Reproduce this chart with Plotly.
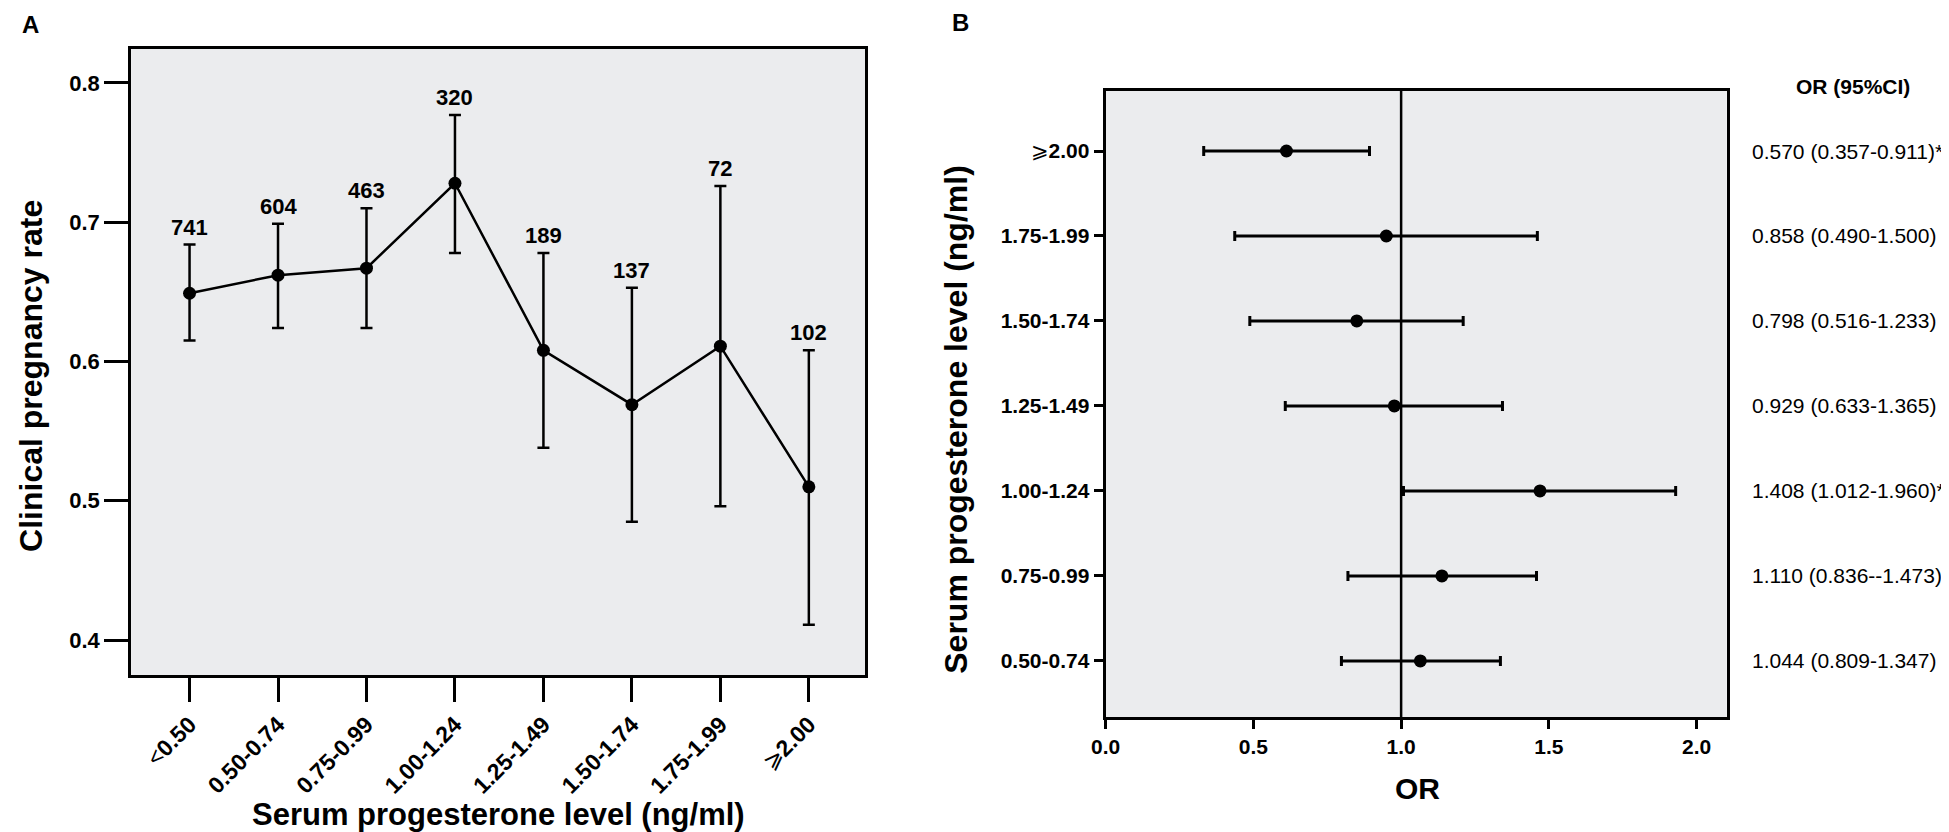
import plotly.graph_objects as go

# Panel A: clinical pregnancy rate by serum progesterone group
groups_a = ["<0.50", "0.50-0.74", "0.75-0.99", "1.00-1.24",
            "1.25-1.49", "1.50-1.74", "1.75-1.99", "⩾2.00"]
rate = [0.649, 0.662, 0.667, 0.728, 0.608, 0.569, 0.611, 0.510]
rate_upper = [0.684, 0.699, 0.710, 0.777, 0.678, 0.653, 0.726, 0.608]
rate_lower = [0.615, 0.624, 0.624, 0.678, 0.538, 0.485, 0.496, 0.411]
counts = [741, 604, 463, 320, 189, 137, 72, 102]

# Panel B: odds ratios (bottom row first)
groups_b = ["0.50-0.74", "0.75-0.99", "1.00-1.24", "1.25-1.49",
            "1.50-1.74", "1.75-1.99", "⩾2.00"]
or_point = [1.065, 1.138, 1.470, 0.977, 0.850, 0.950, 0.612]
or_low = [0.798, 0.820, 1.008, 0.608, 0.488, 0.437, 0.332]
or_high = [1.336, 1.458, 1.929, 1.343, 1.210, 1.461, 0.893]
or_text = ["1.044 (0.809-1.347)", "1.110 (0.836--1.473)", "1.408 (1.012-1.960)*",
           "0.929 (0.633-1.365)", "0.798 (0.516-1.233)", "0.858 (0.490-1.500)",
           "0.570 (0.357-0.911)*"]

W, H = 1949, 832
FONT = "Liberation Sans, Arial, sans-serif"
BG = "#ebecee"


def label(s):
    # comparison sign in normal weight, the numbers in bold
    if s[0] in "<⩾":
        return s[0] + "<b>" + s[1:] + "</b>"
    return "<b>" + s + "</b>"


def px_x(p):
    return p / W


def px_y(p):
    return 1 - p / H


fig = go.Figure()

fig.add_trace(go.Scatter(
    x=groups_a, y=rate,
    mode="lines+markers",
    line=dict(color="black", width=2.5),
    marker=dict(color="black", size=13),
    error_y=dict(
        type="data", symmetric=False,
        array=[u - r for u, r in zip(rate_upper, rate)],
        arrayminus=[r - l for r, l in zip(rate, rate_lower)],
        color="black", thickness=2.5, width=6,
    ),
    xaxis="x", yaxis="y", showlegend=False, hoverinfo="skip",
))

fig.add_trace(go.Scatter(
    x=or_point, y=groups_b,
    mode="markers",
    marker=dict(color="black", size=13),
    error_x=dict(
        type="data", symmetric=False,
        array=[h - p for h, p in zip(or_high, or_point)],
        arrayminus=[p - l for p, l in zip(or_point, or_low)],
        color="black", thickness=3, width=5,
    ),
    xaxis="x2", yaxis="y2", showlegend=False, hoverinfo="skip",
))

axis_common = dict(
    showline=True, linecolor="black", linewidth=3, mirror=True,
    showgrid=False, zeroline=False,
    ticks="outside", tickcolor="black", tickwidth=3,
)

fig.update_layout(
    width=W, height=H,
    margin=dict(l=0, r=0, t=0, b=0),
    paper_bgcolor="white",
    plot_bgcolor=BG,
    font=dict(family=FONT, color="black"),
    xaxis=dict(
        axis_common, domain=[px_x(109), px_x(849)], anchor="y",
        type="category", categoryorder="array", categoryarray=groups_a,
        range=[-0.66, 7.64], ticklen=24, tickangle=-45,
        tickvals=groups_a, ticktext=[label(g) for g in groups_a],
        tickfont=dict(size=23, family=FONT),
    ),
    yaxis=dict(
        axis_common, domain=[px_y(667), px_y(41)], anchor="x",
        range=[0.3749, 0.8244], ticklen=24,
        tickvals=[0.4, 0.5, 0.6, 0.7, 0.8], tickformat=".1f",
        tickfont=dict(size=22, family=FONT, weight="bold"),
    ),
    xaxis2=dict(
        axis_common, domain=[px_x(1091), px_x(1717)], anchor="y2",
        range=[0, 2.102], ticklen=9, dtick=0.5, tick0=0, tickformat=".1f",
        tickfont=dict(size=21, family=FONT, weight="bold"),
    ),
    yaxis2=dict(
        axis_common, domain=[px_y(709), px_y(83)], anchor="x2",
        type="category", categoryorder="array", categoryarray=groups_b,
        range=[-0.66, 6.706], ticklen=9,
        tickvals=groups_b, ticktext=[label(g) for g in groups_b],
        tickfont=dict(size=21, family=FONT),
    ),
)

# reference line at OR = 1
fig.add_shape(type="line", xref="x2", yref="y2 domain", x0=1, x1=1, y0=0, y1=1,
              line=dict(color="black", width=2.5))

# sample sizes above the error bars
for g, u, n in zip(groups_a, rate_upper, counts):
    fig.add_annotation(x=g, y=u, xref="x", yref="y", text=f"<b>{n}</b>",
                       showarrow=False, yanchor="bottom", yshift=3,
                       font=dict(size=22, family=FONT))

# OR (95%CI) column
fig.add_annotation(x=px_x(1844), y=px_y(78), xref="paper", yref="paper",
                   text="<b>OR (95%CI)</b>", showarrow=False,
                   xanchor="center", yanchor="middle", font=dict(size=21, family=FONT))
for g, t in zip(groups_b, or_text):
    fig.add_annotation(x=px_x(1740), y=g, xref="paper", yref="y2", text=t,
                       showarrow=False, xanchor="left", yanchor="middle",
                       font=dict(size=21, family=FONT))

# axis titles and panel letters
titles = [
    ("<b>Clinical pregnancy rate</b>", 8, 368, -90, 32),
    ("<b>Serum progesterone level (ng/ml)</b>", 479, 806, 0, 31),
    ("<b>Serum progesterone level (ng/ml)</b>", 940, 411, -90, 32),
    ("<b>OR</b>", 1405, 780, 0, 30),
]
for text, x, y, ang, size in titles:
    fig.add_annotation(x=px_x(x), y=px_y(y), xref="paper", yref="paper", text=text,
                       showarrow=False, textangle=ang, xanchor="center", yanchor="middle",
                       font=dict(size=size, family=FONT))

for letter, x, y in [("A", 8, 16), ("B", 945, 15)]:
    fig.add_annotation(x=px_x(x), y=px_y(y), xref="paper", yref="paper",
                       text=f"<b>{letter}</b>", showarrow=False,
                       xanchor="center", yanchor="middle", font=dict(size=24, family=FONT))

fig.write_html("out.html")
